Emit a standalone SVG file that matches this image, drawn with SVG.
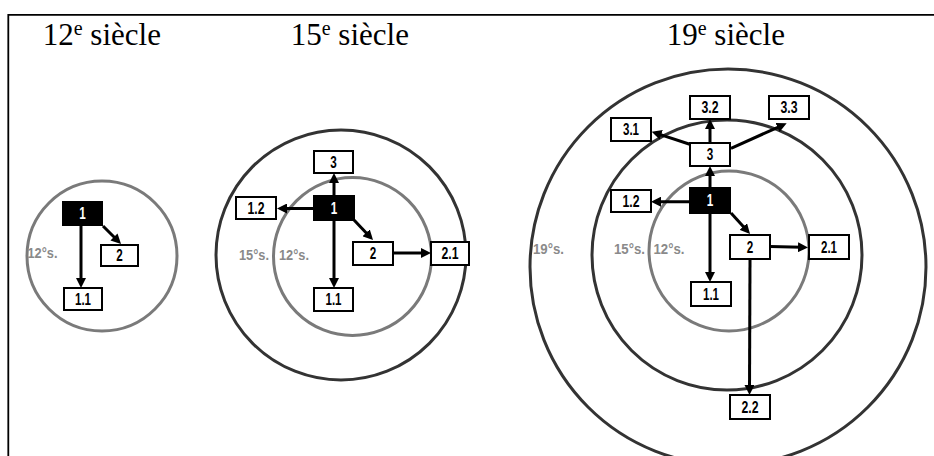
<svg xmlns="http://www.w3.org/2000/svg" width="934" height="456" viewBox="0 0 934 456">
<style>
.title{font-family:"Liberation Serif","Times New Roman",serif;font-size:31px;fill:#000}
.sup{font-size:20px}
.c12{fill:none;stroke:#7a7a7a;stroke-width:3}
.c15{fill:none;stroke:#333;stroke-width:3}
.box{fill:#fff;stroke:#000;stroke-width:2}
.root{fill:#000;stroke:#000;stroke-width:2}
.t{font-family:"Liberation Sans",Arial,sans-serif;font-weight:bold;font-size:16px;fill:#000;text-anchor:middle}
.tw{fill:#fff}
.lab{font-family:"Liberation Sans",Arial,sans-serif;font-weight:bold;font-size:15px;fill:#8a8a8a}
.conn line{stroke:#000;stroke-width:3;marker-end:url(#ah)}
</style>
<defs>
<marker id="ah" markerUnits="userSpaceOnUse" markerWidth="10" markerHeight="10" refX="4" refY="5" orient="auto">
<path d="M0,0 L10,5 L0,10 z" fill="#000"/>
</marker>
</defs>
<rect width="934" height="456" fill="#fff"/>
<path d="M8.3,456 V14.8 H934" fill="none" stroke="#000" stroke-width="1.8"/>
<text class="title" x="42.7" y="45">12<tspan class="sup" dy="-10">e</tspan><tspan dy="10"> siècle</tspan></text>
<text class="title" x="290.7" y="45">15<tspan class="sup" dy="-10">e</tspan><tspan dy="10"> siècle</tspan></text>
<text class="title" x="666.7" y="45">19<tspan class="sup" dy="-10">e</tspan><tspan dy="10"> siècle</tspan></text>

<!-- Diagram 1 -->
<g id="d1-circles">
<circle class="c12" cx="102" cy="256" r="75"/>
<text class="lab" x="27.5" y="258" textLength="30" lengthAdjust="spacingAndGlyphs">12°s.</text>
</g>
<g id="d1-connectors" class="conn">
<line x1="103" y1="226" x2="116.8" y2="239.8"/>
<line x1="81" y1="226" x2="81" y2="282"/>
</g>
<g id="d1-n1"><rect class="root" x="63" y="202" width="39" height="23"/><text class="t tw" x="82.5" y="219.2" textLength="6.5" lengthAdjust="spacingAndGlyphs">1</text></g>
<g id="d1-n2"><rect class="box" x="101" y="245" width="37" height="21"/><text class="t" x="119.5" y="261.2" textLength="6.5" lengthAdjust="spacingAndGlyphs">2</text></g>
<g id="d1-n11"><rect class="box" x="64" y="288" width="38" height="22"/><text class="t" x="83" y="304.7" textLength="16" lengthAdjust="spacingAndGlyphs">1.1</text></g>

<!-- Diagram 2 -->
<g id="d2-circles">
<circle class="c15" cx="341" cy="255" r="125"/>
<circle class="c12" cx="352.5" cy="256.5" r="79"/>
<text class="lab" x="239" y="260" textLength="30" lengthAdjust="spacingAndGlyphs">15°s.</text>
<text class="lab" x="279" y="260" textLength="30" lengthAdjust="spacingAndGlyphs">12°s.</text>
</g>
<g id="d2-connectors" class="conn">
<line x1="334" y1="196" x2="334" y2="179"/>
<line x1="314" y1="208.5" x2="283" y2="208.5"/>
<line x1="354" y1="220" x2="368.9" y2="235.7"/>
<line x1="334" y1="220" x2="334" y2="282"/>
<line x1="393" y1="253" x2="425" y2="253"/>
</g>
<g id="d2-n3"><rect class="box" x="314" y="151" width="39" height="22"/><text class="t" x="333.5" y="167.7" textLength="6.5" lengthAdjust="spacingAndGlyphs">3</text></g>
<g id="d2-n1"><rect class="root" x="314" y="196" width="40" height="24"/><text class="t tw" x="334" y="213.7" textLength="6.5" lengthAdjust="spacingAndGlyphs">1</text></g>
<g id="d2-n12"><rect class="box" x="236" y="197" width="40" height="22"/><text class="t" x="256" y="213.7" textLength="17" lengthAdjust="spacingAndGlyphs">1.2</text></g>
<g id="d2-n2"><rect class="box" x="353" y="242" width="40" height="23"/><text class="t" x="373" y="259.2" textLength="6.5" lengthAdjust="spacingAndGlyphs">2</text></g>
<g id="d2-n21"><rect class="box" x="431" y="242" width="38" height="23"/><text class="t" x="450" y="259.2" textLength="17" lengthAdjust="spacingAndGlyphs">2.1</text></g>
<g id="d2-n11"><rect class="box" x="314" y="288" width="39" height="23"/><text class="t" x="333.5" y="305.2" textLength="16" lengthAdjust="spacingAndGlyphs">1.1</text></g>

<!-- Diagram 3 -->
<g id="d3-circles">
<circle class="c15" cx="728" cy="267" r="198"/>
<circle class="c15" cx="727" cy="255" r="135"/>
<circle class="c12" cx="729" cy="251" r="80"/>
<text class="lab" x="533" y="254" textLength="31" lengthAdjust="spacingAndGlyphs">19°s.</text>
<text class="lab" x="614" y="254" textLength="31" lengthAdjust="spacingAndGlyphs">15°s.</text>
<text class="lab" x="653.5" y="254" textLength="31" lengthAdjust="spacingAndGlyphs">12°s.</text>
</g>
<g id="d3-connectors" class="conn">
<line x1="710" y1="188" x2="710" y2="172"/>
<line x1="710" y1="143" x2="710" y2="125"/>
<line x1="692" y1="145" x2="657.4" y2="133.6"/>
<line x1="731" y1="148.3" x2="781.2" y2="125.8"/>
<line x1="690" y1="201.7" x2="657" y2="201.7"/>
<line x1="710" y1="213" x2="710" y2="276"/>
<line x1="731" y1="213" x2="746" y2="229.5"/>
<line x1="770" y1="246.5" x2="802" y2="247.3"/>
<line x1="750" y1="259" x2="749.5" y2="389"/>
</g>
<g id="d3-n32"><rect class="box" x="690" y="96" width="40" height="23"/><text class="t" x="710" y="113.2" textLength="17" lengthAdjust="spacingAndGlyphs">3.2</text></g>
<g id="d3-n33"><rect class="box" x="769" y="96" width="40" height="23"/><text class="t" x="789" y="113.2" textLength="17" lengthAdjust="spacingAndGlyphs">3.3</text></g>
<g id="d3-n31"><rect class="box" x="611" y="118" width="40" height="23"/><text class="t" x="631" y="135.2" textLength="16" lengthAdjust="spacingAndGlyphs">3.1</text></g>
<g id="d3-n3"><rect class="box" x="690" y="143" width="40" height="23"/><text class="t" x="710" y="160.2" textLength="6.5" lengthAdjust="spacingAndGlyphs">3</text></g>
<g id="d3-n1"><rect class="root" x="690" y="188" width="40" height="25"/><text class="t tw" x="710" y="206.2" textLength="6.5" lengthAdjust="spacingAndGlyphs">1</text></g>
<g id="d3-n12"><rect class="box" x="611" y="190" width="40" height="22"/><text class="t" x="631" y="206.7" textLength="17" lengthAdjust="spacingAndGlyphs">1.2</text></g>
<g id="d3-n2"><rect class="box" x="730" y="235" width="40" height="24"/><text class="t" x="750" y="252.7" textLength="6.5" lengthAdjust="spacingAndGlyphs">2</text></g>
<g id="d3-n21"><rect class="box" x="809" y="235" width="40" height="24"/><text class="t" x="829" y="252.7" textLength="16" lengthAdjust="spacingAndGlyphs">2.1</text></g>
<g id="d3-n11"><rect class="box" x="691" y="282" width="40" height="24"/><text class="t" x="711" y="299.7" textLength="16" lengthAdjust="spacingAndGlyphs">1.1</text></g>
<g id="d3-n22"><rect class="box" x="730" y="395" width="40" height="24"/><text class="t" x="750" y="412.7" textLength="17" lengthAdjust="spacingAndGlyphs">2.2</text></g>
</svg>
